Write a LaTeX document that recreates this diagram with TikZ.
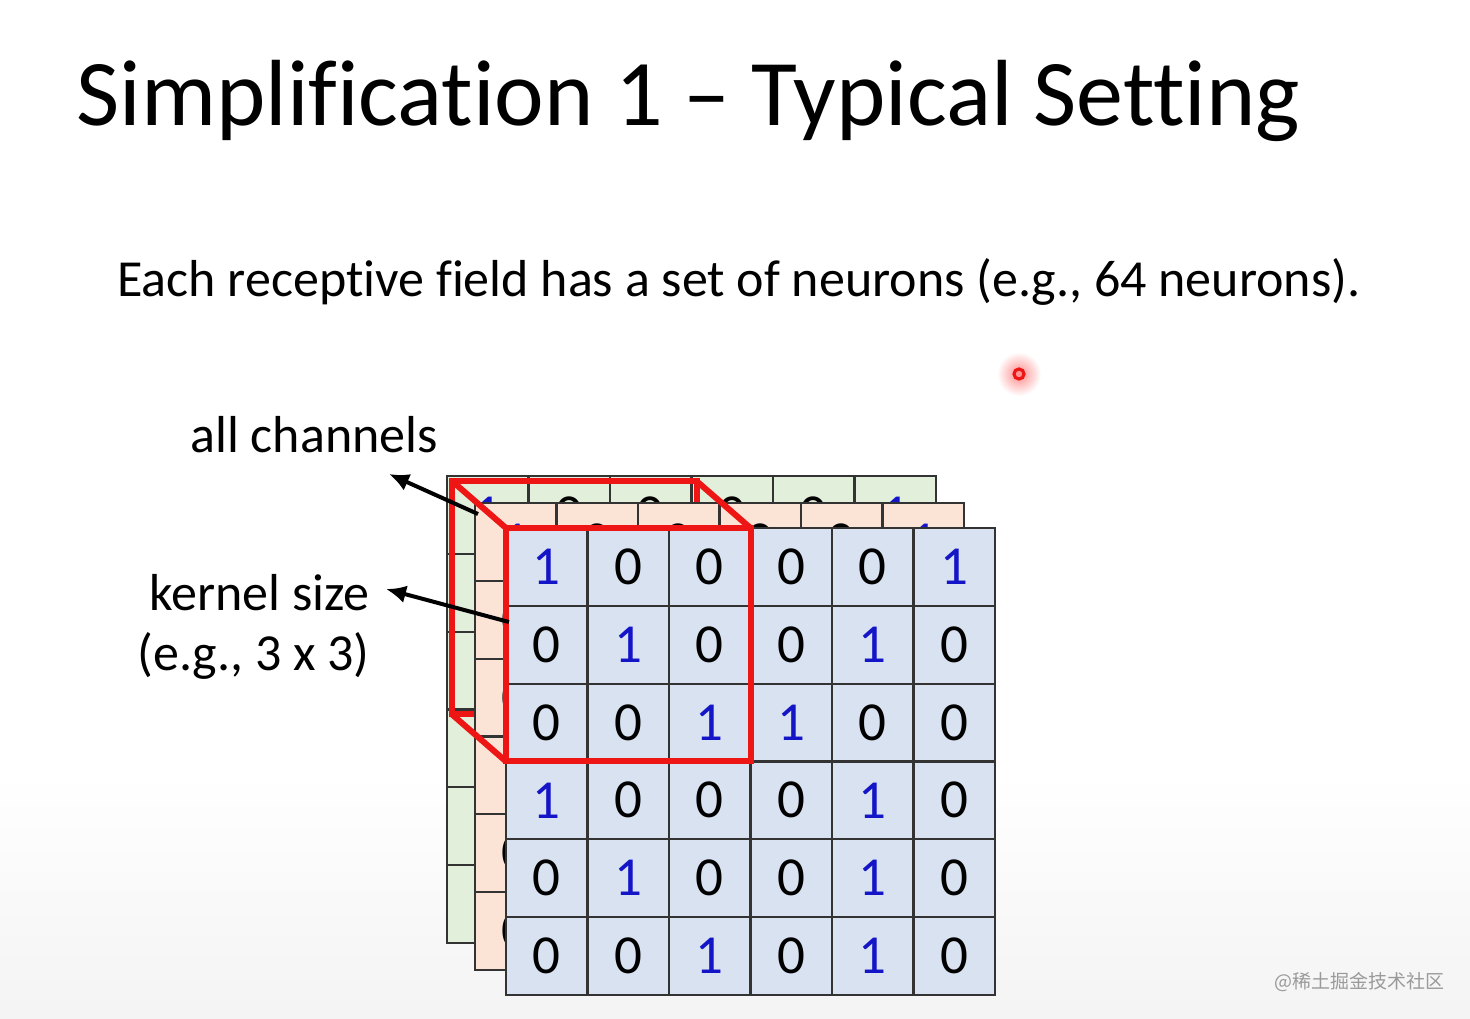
\documentclass[tikz,border=0pt]{standalone}
\usepackage{fontspec}
\setmainfont{Carlito}[Ligatures={NoCommon}]
\newfontfamily\cjkfont{Noto Sans CJK SC}
\usetikzlibrary{arrows.meta,positioning,calc}
\definecolor{cellblue}{HTML}{D8E2F0}
\definecolor{cellpink}{HTML}{FBE3D6}
\definecolor{cellgreen}{HTML}{E2EFDA}
\definecolor{gridline}{HTML}{333333}
\definecolor{digitblue}{HTML}{1515C8}
\definecolor{kernelred}{HTML}{EE1515}
\definecolor{bggray}{HTML}{DCDCDC}
\definecolor{markgray}{HTML}{9A9A9A}
\pgfdeclareverticalshading{slidebg}{100bp}{color(0bp)=(bggray); color(37bp)=(white); color(100bp)=(white)}
\tikzset{
  cell/.style={
    draw=gridline,
    line width=1.1pt,
    minimum width=40.75pt,
    minimum height=38.9pt,
    inner sep=0pt,
    font=\fontsize{27.5}{27.5}\selectfont
  },
  digit0/.style={text=black},
  digit1/.style={text=digitblue},
  kernel/.style={
    draw=kernelred,
    line width=3pt
  },
  pointer/.style={
    -{Latex[length=10pt,width=9pt]},
    line width=2pt,
    draw=black
  },
  titletext/.style={inner sep=0pt, font=\fontsize{47}{56}\selectfont},
  bodytext/.style={inner sep=0pt, font=\fontsize{26}{31}\selectfont}
}
% one 6x6 layer: name, left, top, fill
\newcommand{\gridlayer}[4]{%
  \foreach \vals [count=\r] in {{1,0,0,0,0,1},{0,1,0,0,1,0},{0,0,1,1,0,0},{1,0,0,0,1,0},{0,1,0,0,1,0},{0,0,1,0,1,0}}
    \foreach \v [count=\c] in \vals
      \node[cell, fill=#4, digit\v] (#1-\r-\c) at ({#2+81.5*(\c-0.5)}, {#3+77.8*(\r-0.5)}) {\v};
}

\begin{document}
\begin{tikzpicture}[x=0.5pt, y=-0.5pt]
\useasboundingbox (0,0) rectangle (1470,1018);
\shade[shading=slidebg] (0,0) rectangle (1470,1018);

% kernel corners
\coordinate (kf-nw) at (506,528);
\coordinate (kf-ne) at (750.5,528);
\coordinate (kf-sw) at (506,761.4);
\coordinate (kf-se) at (750.5,761.4);
\coordinate (kb-nw) at ($(kf-nw)+(-54,-47)$);
\coordinate (kb-ne) at ($(kf-ne)+(-54,-47)$);
\coordinate (kb-sw) at ($(kf-sw)+(-54,-47)$);
\coordinate (kb-se) at ($(kf-se)+(-54,-47)$);

% channel layers, back to front
\gridlayer{g}{447}{476}{cellgreen}
\draw[kernel] (kb-nw) rectangle (kb-se);
\gridlayer{p}{475}{503}{cellpink}
\gridlayer{f}{506}{528}{cellblue}
\draw[kernel] (kf-nw) rectangle (kf-se);
\draw[kernel] (kb-nw) -- (kf-nw);
\draw[kernel] (kb-ne) -- (kf-ne);
\draw[kernel] (kb-sw) -- (kf-sw);

% labels
\node[bodytext, anchor=base west] (channels) at (190,452) {all channels};
\node[bodytext, anchor=base east] (ksize) at (370,610) {kernel size};
\node[bodytext, anchor=base east] (kexample) at (370,670) {(e.g., 3 x 3)};
\coordinate (chtip) at (389,474);
\coordinate (chtail) at (478,514);
\coordinate (kstip) at (386,589);
\coordinate (kstail) at (509,622);
\draw[pointer] (chtail) -- (chtip);
\draw[pointer] (kstail) -- (kstip);

% title and text
\node[titletext, anchor=base west] (title) at (76,125) {Simplification 1 – Typical Setting};
\node[bodytext, anchor=base west] (subtitle) at (117,296) {Each receptive field has a set of neurons (e.g., 64 neurons).};

% laser dot
\shade[inner color=red!45, outer color=white] (1019,374) circle (22);
\draw[kernelred, line width=1.6pt] (1019,374) circle (5);

\node[inner sep=0pt, anchor=base east, text=markgray, font=\cjkfont\fontsize{9.5}{10}\selectfont] (mark) at (1445,988) {@稀土掘金技术社区};
\end{tikzpicture}
\end{document}
